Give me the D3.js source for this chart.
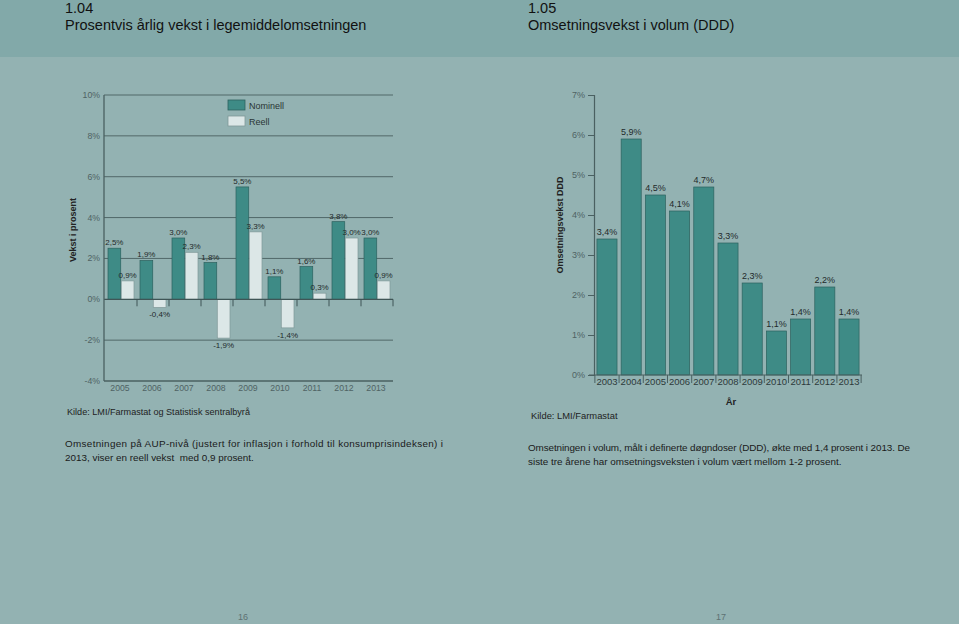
<!DOCTYPE html>
<html><head><meta charset="utf-8">
<script src="https://cdn.jsdelivr.net/npm/d3@7"></script>
<style>
body{margin:0;padding:0;background:#93b2b2;}
svg{display:block;font-family:"Liberation Sans",Arial,sans-serif;}
</style></head>
<body>
<svg id="c" width="959" height="624"></svg>
<script>
// ---- data ----
const years1 = ["2005","2006","2007","2008","2009","2010","2011","2012","2013"];
const nominell = [2.5, 1.9, 3.0, 1.8, 5.5, 1.1, 1.6, 3.8, 3.0];
const reell = [0.9, -0.4, 2.3, -1.9, 3.3, -1.4, 0.3, 3.0, 0.9];
const ticks1 = [-4, -2, 0, 2, 4, 6, 8, 10];
const series1 = ["Nominell", "Reell"];

const years2 = ["2003","2004","2005","2006","2007","2008","2009","2010","2011","2012","2013"];
const ddd = [3.4, 5.9, 4.5, 4.1, 4.7, 3.3, 2.3, 1.1, 1.4, 2.2, 1.4];
const ticks2 = [0, 1, 2, 3, 4, 5, 6, 7];

const fmt = v => String(v.toFixed(1)).replace(".", ",") + "%";

const svg = d3.select("#c");
const C = {nom:"#3e8b86", nomS:"#2d625f", re:"#dce7e7", reS:"#7f9898", grid:"#516869", txt:"#1f2a2b", tick:"#4f6364"};

// backgrounds
svg.append("rect").attr("width",959).attr("height",624).attr("fill","#93b2b2");
svg.append("rect").attr("width",959).attr("height",57).attr("fill","#82a9a9");

// headers
function header(x, num, title){
  svg.append("text").attr("x",x).attr("y",13).attr("font-size",14.5).attr("fill","#111").text(num);
  svg.append("text").attr("x",x).attr("y",30).attr("font-size",14.5).attr("fill","#111").text(title);
}
header(65,"1.04","Prosentvis årlig vekst i legemiddelomsetningen");
header(528,"1.05","Omsetningsvekst i volum (DDD)");

// ---------- LEFT CHART ----------
const y1 = d3.scaleLinear().domain([-4,10]).range([381,95]);
const x1 = d3.scaleBand().domain(years1).range([105,393]).paddingInner(0).paddingOuter(0);
const g1 = svg.append("g");

// gridlines
g1.selectAll("line.grid").data(ticks1.filter(t=>t!==-4 && t!==0)).join("line")
  .attr("x1",104).attr("x2",393).attr("y1",d=>y1(d)).attr("y2",d=>y1(d))
  .attr("stroke",C.grid).attr("stroke-width",1);
// y tick labels
g1.selectAll("text.yt").data(ticks1).join("text")
  .attr("x",100).attr("y",d=>y1(d)+3).attr("text-anchor","end")
  .attr("font-size",8.7).attr("fill",C.tick).text(d=>d+"%");

// bars
const inner = d3.scaleBand().domain(series1).range([0, 26]).paddingInner(0.04);
years1.forEach((yr,i)=>{
  const gx = x1(yr) + (x1.bandwidth()-26)/2;
  [[nominell[i],"Nominell"],[reell[i],"Reell"]].forEach(([v,s])=>{
    const bx = gx + inner(s);
    g1.append("rect").attr("x",bx).attr("width",inner.bandwidth())
      .attr("y",y1(Math.max(0,v))).attr("height",Math.abs(y1(v)-y1(0)))
      .attr("fill", s==="Nominell"?C.nom:C.re).attr("stroke", s==="Nominell"?C.nomS:C.reS).attr("stroke-width",0.7);
    g1.append("text").attr("x",bx+inner.bandwidth()/2)
      .attr("y", v>=0 ? y1(v)-3 : y1(v)+10)
      .attr("text-anchor","middle").attr("font-size",8).attr("fill",C.txt).text(fmt(v));
  });
});

// baseline & axes
g1.append("line").attr("x1",104).attr("x2",393).attr("y1",y1(0)).attr("y2",y1(0)).attr("stroke","#3f5556").attr("stroke-width",1.2);
g1.selectAll("line.xt").data(years1.slice(1).concat(["end"])).join("line")
  .attr("x1",(d,i)=>x1(years1[0]) + (i+1)*x1.bandwidth()).attr("x2",(d,i)=>x1(years1[0]) + (i+1)*x1.bandwidth())
  .attr("y1",y1(0)).attr("y2",y1(0)+7).attr("stroke","#3f5556").attr("stroke-width",1);
g1.append("line").attr("x1",104).attr("x2",104).attr("y1",95).attr("y2",381).attr("stroke","#4a6061").attr("stroke-width",1.3);
g1.append("line").attr("x1",104).attr("x2",393).attr("y1",381).attr("y2",381).attr("stroke","#4a6061").attr("stroke-width",1.3);
g1.selectAll("text.xl").data(years1).join("text")
  .attr("x",d=>x1(d)+x1.bandwidth()/2-1).attr("y",391).attr("text-anchor","middle")
  .attr("font-size",8.7).attr("fill",C.tick).text(d=>d);

// y label
g1.append("text").attr("transform","translate(76,230) rotate(-90)").attr("text-anchor","middle")
  .attr("font-size",9).attr("font-weight","bold").attr("fill","#222").text("Vekst i prosent");

// legend
const lg = g1.append("g");
series1.forEach((s,i)=>{
  lg.append("rect").attr("x",228).attr("y",100+i*16).attr("width",17).attr("height",10)
    .attr("fill", i===0?C.nom:C.re).attr("stroke", i===0?C.nomS:C.reS).attr("stroke-width",0.8);
  lg.append("text").attr("x",249).attr("y",109+i*16).attr("font-size",9).attr("fill","#2a3535").text(s);
});

// source & text
svg.append("text").attr("x",67).attr("y",415).attr("font-size",9.1).attr("fill","#222").text("Kilde: LMI/Farmastat og Statistisk sentralbyrå");
svg.append("text").attr("x",65).attr("y",447).attr("font-size",9.9).attr("fill","#1a1a1a")
  .attr("textLength",378).attr("lengthAdjust","spacing")
  .text("Omsetningen på AUP-nivå (justert for inflasjon i forhold til konsumprisindeksen) i");
svg.append("text").attr("x",65).attr("y",461).attr("font-size",9.9).attr("fill","#1a1a1a")
  .attr("xml:space","preserve").text("2013, viser en reell vekst  med 0,9 prosent.");

// ---------- RIGHT CHART ----------
const y2 = d3.scaleLinear().domain([0,7]).range([375,95]);
const x2 = d3.scaleBand().domain(years2).range([595,861]).paddingInner(0.17).paddingOuter(0.08);
const g2 = svg.append("g");

g2.append("g").attr("transform","translate(594,0)")
  .call(d3.axisLeft(y2).tickValues(ticks2).tickSize(6).tickFormat(d=>d+"%"))
  .call(g=>{
    g.select(".domain").attr("stroke","#4a6061").attr("stroke-width",1.2);
    g.selectAll(".tick line").attr("stroke","#4a6061");
    g.selectAll(".tick text").attr("font-size",9).attr("fill",C.tick).attr("font-family","Liberation Sans, Arial, sans-serif").attr("x",-9);
  });

g2.selectAll("rect.bar").data(years2).join("rect")
  .attr("x",d=>x2(d)).attr("width",x2.bandwidth())
  .attr("y",(d,i)=>y2(ddd[i])).attr("height",(d,i)=>y2(0)-y2(ddd[i]))
  .attr("fill",C.nom).attr("stroke",C.nomS).attr("stroke-width",0.7);
g2.selectAll("text.val").data(years2).join("text")
  .attr("x",d=>x2(d)+x2.bandwidth()/2).attr("y",(d,i)=>y2(ddd[i])-4)
  .attr("text-anchor","middle").attr("font-size",9).attr("fill",C.txt).text((d,i)=>fmt(ddd[i]));

// x axis
g2.append("line").attr("x1",589).attr("x2",862).attr("y1",375).attr("y2",375).attr("stroke","#4a6061").attr("stroke-width",1.2);
const step = x2.step();
const bnd = years2.map((d,i)=> x2(years2[0]) - (step - x2.bandwidth())/2 + i*step).concat([x2(years2[years2.length-1]) + x2.bandwidth() + (step - x2.bandwidth())/2]);
g2.selectAll("line.xt").data(bnd).join("line")
  .attr("x1",d=>d).attr("x2",d=>d).attr("y1",375).attr("y2",383).attr("stroke","#4a6061");
g2.selectAll("text.xl").data(years2).join("text")
  .attr("x",d=>x2(d)+x2.bandwidth()/2).attr("y",385).attr("text-anchor","middle")
  .attr("font-size",9.5).attr("fill","#2d3a3b").text(d=>d);

g2.append("text").attr("x",731).attr("y",405).attr("text-anchor","middle")
  .attr("font-size",9.5).attr("font-weight","bold").attr("fill","#222").text("År");
g2.append("text").attr("transform","translate(563,225) rotate(-90)").attr("text-anchor","middle")
  .attr("font-size",9).attr("font-weight","bold").attr("fill","#222").text("Omsetningsvekst DDD");

svg.append("text").attr("x",531).attr("y",419).attr("font-size",9.4).attr("fill","#222").text("Kilde: LMI/Farmastat");
svg.append("text").attr("x",528).attr("y",451).attr("font-size",9.9).attr("fill","#1a1a1a")
  .attr("textLength",382).attr("lengthAdjust","spacing")
  .text("Omsetningen i volum, målt i definerte døgndoser (DDD), økte med 1,4 prosent i 2013. De");
svg.append("text").attr("x",528).attr("y",465).attr("font-size",9.9).attr("fill","#1a1a1a")
  .text("siste tre årene har omsetningsveksten i volum vært mellom 1-2 prosent.");

// page numbers
svg.append("text").attr("x",243).attr("y",620).attr("text-anchor","middle").attr("font-size",9).attr("fill","#5d7173").text("16");
svg.append("text").attr("x",721).attr("y",620).attr("text-anchor","middle").attr("font-size",9).attr("fill","#5d7173").text("17");
</script>
</body></html>
